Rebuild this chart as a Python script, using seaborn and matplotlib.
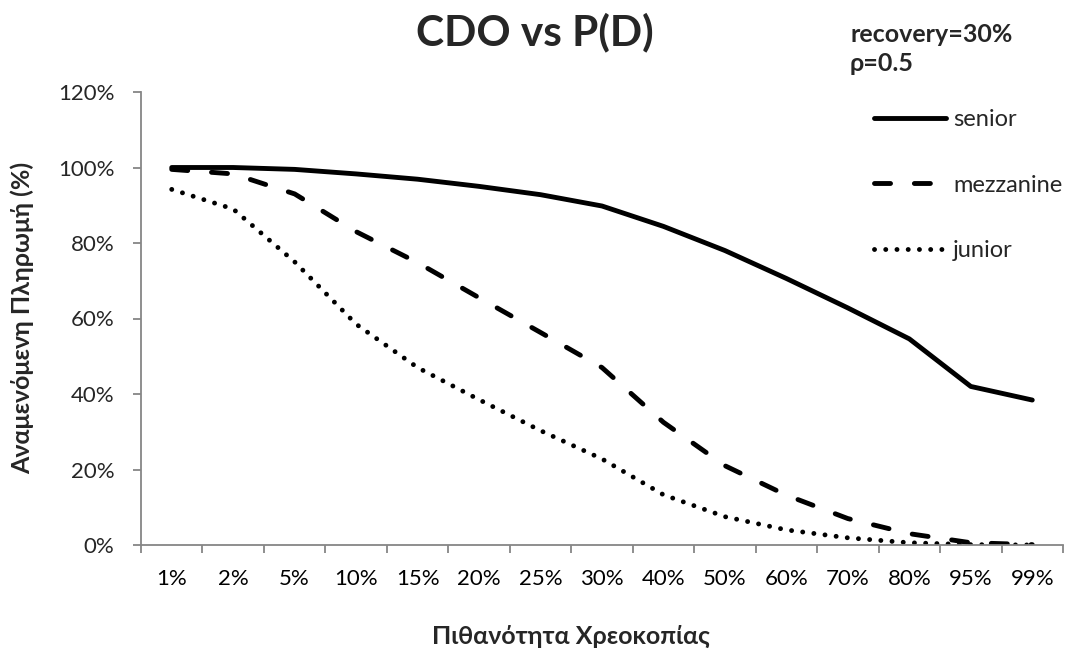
import matplotlib
matplotlib.use("Agg")
import matplotlib.pyplot as plt
import seaborn as sns
import pandas as pd
from matplotlib.ticker import FuncFormatter, FixedLocator

# ---- data ----
categories = ["1%", "2%", "5%", "10%", "15%", "20%", "25%", "30%",
              "40%", "50%", "60%", "70%", "80%", "95%", "99%"]
senior = [100.0, 100.0, 99.5, 98.3, 96.9, 95.0, 92.8, 89.8,
          84.4, 78.0, 70.6, 62.8, 54.6, 42.0, 38.4]
mezzanine = [99.5, 98.3, 93.0, 83.0, 74.8, 65.5, 56.3, 47.0,
             32.5, 21.0, 13.2, 7.0, 3.0, 0.6, 0.1]
junior = [94.2, 89.0, 75.0, 58.5, 47.0, 38.5, 30.3, 22.8,
          13.3, 7.5, 4.0, 1.9, 0.6, 0.1, 0.0]
y_ticks = [0, 20, 40, 60, 80, 100, 120]

title = "CDO vs P(D)"
note_lines = ["recovery=30%", "ρ=0.5"]
x_label = "Πιθανότητα Χρεοκοπίας"
y_label = "Αναμενόμενη Πληρωμή (%)"

sns.set_theme(style="white")
plt.rcParams['font.family'] = ['Lato', 'DejaVu Sans']

W, H = 1072, 652
fig = plt.figure(figsize=(W / 100, H / 100), dpi=100)
ax = fig.add_axes([141/W, 1-545/H, (1063-141)/W, (545-92)/H])

df = pd.DataFrame({"pd": categories, "senior": senior,
                   "mezzanine": mezzanine, "junior": junior})
df["pos"] = range(len(categories))

lw = 3.5
sns.lineplot(data=df, x="pos", y="senior", ax=ax, color="black", lw=lw,
             label="senior", solid_capstyle="round", solid_joinstyle="round")
sns.lineplot(data=df, x="pos", y="mezzanine", ax=ax, color="black", lw=lw,
             label="mezzanine")
sns.lineplot(data=df, x="pos", y="junior", ax=ax, color="black", lw=lw,
             label="junior")
lines = ax.get_lines()
lines[1].set_linestyle((0, (3.3, 4.9)))
lines[1].set_dash_capstyle("round")
lines[2].set_linestyle((0, (0.01, 2.3)))
lines[2].set_dash_capstyle("round")

ax.set_xlim(-0.5, len(categories) - 0.5)
ax.set_ylim(0, 120)
ax.set_xticks(range(len(categories)))
ax.set_xticklabels(categories)
ax.xaxis.set_minor_locator(FixedLocator([i - 0.5 for i in range(len(categories) + 1)]))
ax.set_yticks(y_ticks)
ax.yaxis.set_major_formatter(FuncFormatter(lambda v, p: f"{int(v)}%"))

grey = "#868686"
for s in ["top", "right"]:
    ax.spines[s].set_visible(False)
for s in ["left", "bottom"]:
    ax.spines[s].set_color(grey)
    ax.spines[s].set_linewidth(1.3)
ax.tick_params(axis="x", which="major", length=0, labelsize=16, pad=17, colors="black")
ax.tick_params(axis="x", which="minor", length=6, width=1.3, color=grey, direction="out", bottom=True)
ax.tick_params(axis="y", which="major", length=6, width=1.3, color=grey, direction="out",
               labelsize=16, pad=13, left=True)

ax.set_xlabel("")
ax.set_ylabel("")
fig.text(571/W, 1-636/H, x_label, ha="center", va="center", fontsize=18, fontweight="bold")
fig.text(22/W, 1-318/H, y_label, ha="center", va="center", rotation=90,
         fontsize=18, fontweight="bold")
fig.text(535/W, 1-45/H, title, ha="center", va="baseline", fontsize=30.5, fontweight="bold")
fig.text(850/W, 1-42/H, note_lines[0], ha="left", va="baseline", fontsize=18, fontweight="bold")
fig.text(850/W, 1-71/H, note_lines[1], ha="left", va="baseline", fontsize=18, fontweight="bold")

leg = ax.legend(loc="upper left", bbox_to_anchor=(874/W, 1-109/H),
                bbox_transform=fig.transFigure, frameon=False, fontsize=17,
                handlelength=3.05, handletextpad=0.3, labelspacing=1.89,
                borderaxespad=0, borderpad=0)

fig.savefig("out.png", dpi=100, facecolor="white")
